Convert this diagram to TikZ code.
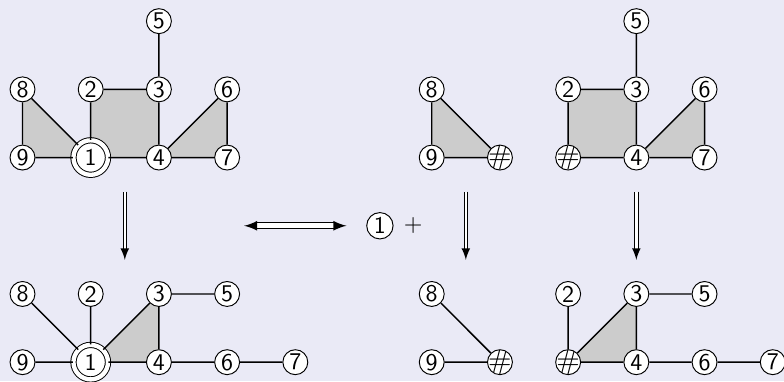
\documentclass[tikz,border=0pt]{standalone}
\usepackage{tikz}
\usetikzlibrary{shapes,arrows,positioning,backgrounds}
\definecolor{slide}{RGB}{234, 234, 246}
\definecolor{face}{RGB}{204, 204, 204}
\tikzstyle{vert} = [circle, draw, fill=white, inner sep=0pt, minimum size=10.4pt, font=\sffamily]
\tikzstyle{dvert} = [vert, double, double distance=1.8pt, minimum size=14.4pt]
\tikzstyle{hvert} = [vert, path picture={\node at (path picture bounding box.center) {\large\#};}]
\tikzstyle{tedge} = [draw, semithick]
\tikzstyle{tface} = [fill=face]
\tikzstyle{reduce} = [draw, double, double distance=1pt, >=latex, ->]
\tikzstyle{equiv} = [draw, double, double distance=2pt, >=latex, <->]

\begin{document}
\begin{tikzpicture}[on grid, node distance=1cm]

\useasboundingbox (-0.33,-0.28) rectangle (11.165,5.31);

% top left ===============================
\node[vert] (a9) at (0,3) {9};
\node[dvert, right=of a9] (a1) {1};
\node[vert, right=of a1] (a4) {4};
\node[vert, right=of a4] (a7) {7};
\node[vert, above=of a9] (a8) {8};
\node[vert, above=of a1] (a2) {2};
\node[vert, above=of a4] (a3) {3};
\node[vert, above=of a7] (a6) {6};
\node[vert, above=of a3] (a5) {5};

% bottom left ============================
\node[vert] (b9) at (0,0) {9};
\node[dvert, right=of b9] (b1) {1};
\node[vert, right=of b1] (b4) {4};
\node[vert, right=of b4] (b6) {6};
\node[vert, right=of b6] (b7) {7};
\node[vert, above=of b9] (b8) {8};
\node[vert, above=of b1] (b2) {2};
\node[vert, above=of b4] (b3) {3};
\node[vert, above=of b6] (b5) {5};

% middle =================================
\node[vert] (c9) at (6,3) {9};
\node[hvert, right=of c9] (ch) {};
\node[vert, above=of c9] (c8) {8};
\node[vert] (d9) at (6,0) {9};
\node[hvert, right=of d9] (dh) {};
\node[vert, above=of d9] (d8) {8};

% right ==================================
\node[hvert] (eh) at (8,3) {};
\node[vert, right=of eh] (e4) {4};
\node[vert, right=of e4] (e7) {7};
\node[vert, above=of eh] (e2) {2};
\node[vert, above=of e4] (e3) {3};
\node[vert, above=of e7] (e6) {6};
\node[vert, above=of e3] (e5) {5};
\node[hvert] (fh) at (8,0) {};
\node[vert, right=of fh] (f4) {4};
\node[vert, right=of f4] (f6) {6};
\node[vert, right=of f6] (f7) {7};
\node[vert, above=of fh] (f2) {2};
\node[vert, above=of f4] (f3) {3};
\node[vert, above=of f6] (f5) {5};

% plus
\node[vert, minimum size=11pt] (one) at (5.24,2) {1};
\node[right=0.49cm of one] (plus) {$+$};

% faces
\begin{scope}[on background layer]
\fill[slide] (-0.33,-0.28) rectangle (11.165,5.31);
\path[tface] (a8.center) -- (a9.center) -- (a1.center) -- cycle;
\path[tface] (a1.center) -- (a2.center) -- (a3.center) -- (a4.center) -- cycle;
\path[tface] (a4.center) -- (a6.center) -- (a7.center) -- cycle;
\path[tface] (b1.center) -- (b3.center) -- (b4.center) -- cycle;
\path[tface] (c8.center) -- (c9.center) -- (ch.center) -- cycle;
\path[tface] (eh.center) -- (e2.center) -- (e3.center) -- (e4.center) -- cycle;
\path[tface] (e4.center) -- (e6.center) -- (e7.center) -- cycle;
\path[tface] (fh.center) -- (f3.center) -- (f4.center) -- cycle;
\end{scope}

% edges
\path[tedge] (a8) -- (a9) (a8) -- (a1) (a9) -- (a1) (a1) -- (a2) (a2) -- (a3) (a3) -- (a4)
  (a1) -- (a4) (a4) -- (a6) (a6) -- (a7) (a4) -- (a7) (a3) -- (a5);
\path[tedge] (b9) -- (b1) (b8) -- (b1) (b2) -- (b1) (b1) -- (b3) (b1) -- (b4) (b3) -- (b4)
  (b3) -- (b5) (b4) -- (b6) (b6) -- (b7);
\path[tedge] (c8) -- (c9) (c8) -- (ch) (c9) -- (ch);
\path[tedge] (d8) -- (dh) (d9) -- (dh);
\path[tedge] (e5) -- (e3) (e2) -- (e3) (e2) -- (eh) (eh) -- (e4) (e3) -- (e4) (e4) -- (e6)
  (e6) -- (e7) (e4) -- (e7);
\path[tedge] (f2) -- (fh) (fh) -- (f3) (fh) -- (f4) (f3) -- (f4) (f3) -- (f5) (f4) -- (f6)
  (f6) -- (f7);

% arrows
\coordinate (s1) at (1.5,2.5);
\coordinate (t1) at (1.5,1.5);
\coordinate (s2) at (6.5,2.5);
\coordinate (t2) at (6.5,1.5);
\coordinate (s3) at (9,2.5);
\coordinate (t3) at (9,1.5);
\coordinate (l) at (3.25,2);
\coordinate (r) at (4.75,2);
\path[reduce] (s1) -- (t1);
\path[reduce] (s2) -- (t2);
\path[reduce] (s3) -- (t3);
\path[equiv] (l) -- (r);

\end{tikzpicture}
\end{document}
